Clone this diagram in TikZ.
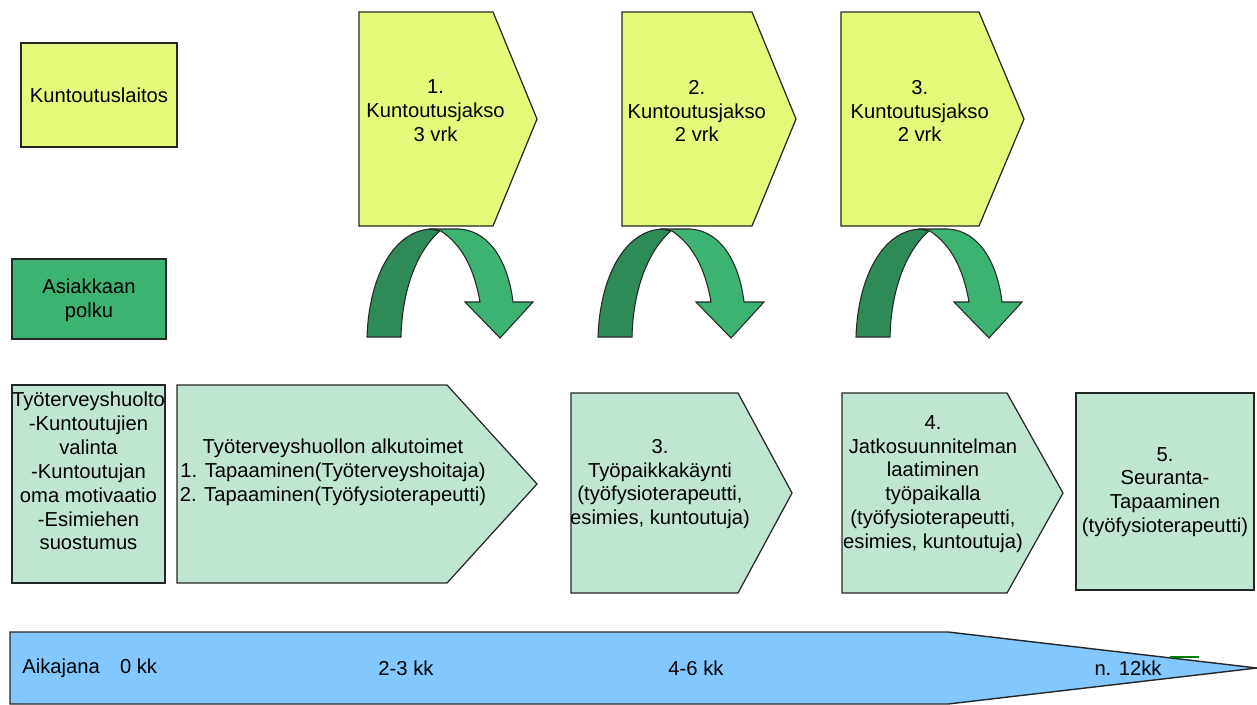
\documentclass[tikz,border=0pt]{standalone}
\usepackage{fontspec}
\setmainfont{Liberation Sans}
\usetikzlibrary{positioning}

\definecolor{laitosyellow}{RGB}{229,250,122}
\definecolor{polkugreen}{RGB}{60,179,113}
\definecolor{polkudark}{RGB}{46,139,87}
\definecolor{huoltomint}{RGB}{192,230,210}
\definecolor{aikablue}{RGB}{130,200,255}

\begin{document}
\begin{tikzpicture}[x=0.02cm,y=-0.02cm,
		txt/.style={font=\fontsize{11.5}{13.6}\selectfont,align=center,inner sep=0pt},
		laitos/.style={draw=black!85,line width=0.7pt,fill=laitosyellow},
		polku/.style={draw=black!85,line width=0.7pt,fill=polkugreen},
		kaari/.style={draw=black!85,line width=0.6pt,fill=polkudark},
		huolto/.style={draw=black!85,line width=0.7pt,fill=huoltomint},
		aika/.style={draw=black!85,line width=0.8pt,fill=aikablue}
	]
	\useasboundingbox (0,0) rectangle (1257,704);

	% kuntoutuslaitos
	\draw[laitos] (21,43) rectangle (177,147);
	\node(laitos) [txt] at (99,95) {Kuntoutuslaitos};
	\foreach \xa/\xs/\xb/\num/\vrk in {359/493/537/1/3, 622/752/796/2/2, 841/979/1024/3/2}{
		\draw[laitos] (\xa,12) -- (\xs,12) -- (\xb,119) -- (\xs,226) -- (\xa,226) -- cycle;
		\node(jakso\num) [txt] at ({\xa+0.43*(\xb-\xa)},111) {\num.\\Kuntoutusjakso\\\vrk\ vrk};
	}

	% asiakkaan polku
	\draw[polku] (12,259) rectangle (166,339);
	\node(polku) [txt] at (89,300) {Asiakkaan\\polku};
	\foreach \ox in {367,598,856}{
		\begin{scope}[shift={(\ox,0)}]
			\draw[kaari] (0,337) .. controls (2,275) and (28,229) .. (66,229) -- (74,230)
				.. controls (50,250) and (35,290) .. (34,337) -- cycle;
			\draw[kaari,fill=polkugreen] (62,229) -- (92,229) .. controls (126,231) and (142,268) .. (146,302)
				-- (166,302) -- (133,338) -- (98,302) -- (113,302)
				.. controls (107,268) and (95,245) .. (74,231) -- cycle;
		\end{scope}
	}

	% tyoterveyshuolto
	\draw[huolto] (12,385) rectangle (165,583);
	\node(valinta) [txt] at (88.5,471) {Työterveyshuolto\\-Kuntoutujien\\valinta\\-Kuntoutujan\\oma motivaatio\\-Esimiehen\\suostumus};
	\draw[huolto] (177,385) -- (447,385) -- (537,484) -- (447,583) -- (177,583) -- cycle;
	\node(alku) [txt] at (333,472) {Työterveyshuollon alkutoimet\\1. Tapaaminen(Työterveyshoitaja)\\2. Tapaaminen(Työfysioterapeutti)};
	\draw[huolto] (571,393) -- (738,393) -- (792,493) -- (738,593) -- (571,593) -- cycle;
	\node(kaynti) [txt] at (660,484) {3.\\Työpaikkakäynti\\(työfysioterapeutti,\\esimies, kuntoutuja)};
	\draw[huolto] (842,393) -- (1007,393) -- (1063,493) -- (1007,593) -- (842,593) -- cycle;
	\node(jatko) [txt] at (933,484) {4.\\Jatkosuunnitelman\\laatiminen\\työpaikalla\\(työfysioterapeutti,\\esimies, kuntoutuja)};
	\draw[huolto] (1076,393) rectangle (1254,590);
	\node(seuranta) [txt] at (1165,492) {5.\\Seuranta-\\Tapaaminen\\(työfysioterapeutti)};

	% aikajana
	\draw[aika] (10,632) -- (948,632) -- (1257,668) -- (948,704) -- (10,704) -- cycle;
	\node(aikajana) [txt,anchor=west] at (22,668) {Aikajana\hspace{1em}0 kk};
	\node(kk23) [txt] at (406,668) {2-3 kk};
	\node(kk46) [txt] at (696,668) {4-6 kk};
	\node(kk12) [txt] at (1128,668) {n. 12kk};
	\draw[green!50!black,line width=0.8pt] (1170,657) -- (1199,657);
\end{tikzpicture}
\end{document}
